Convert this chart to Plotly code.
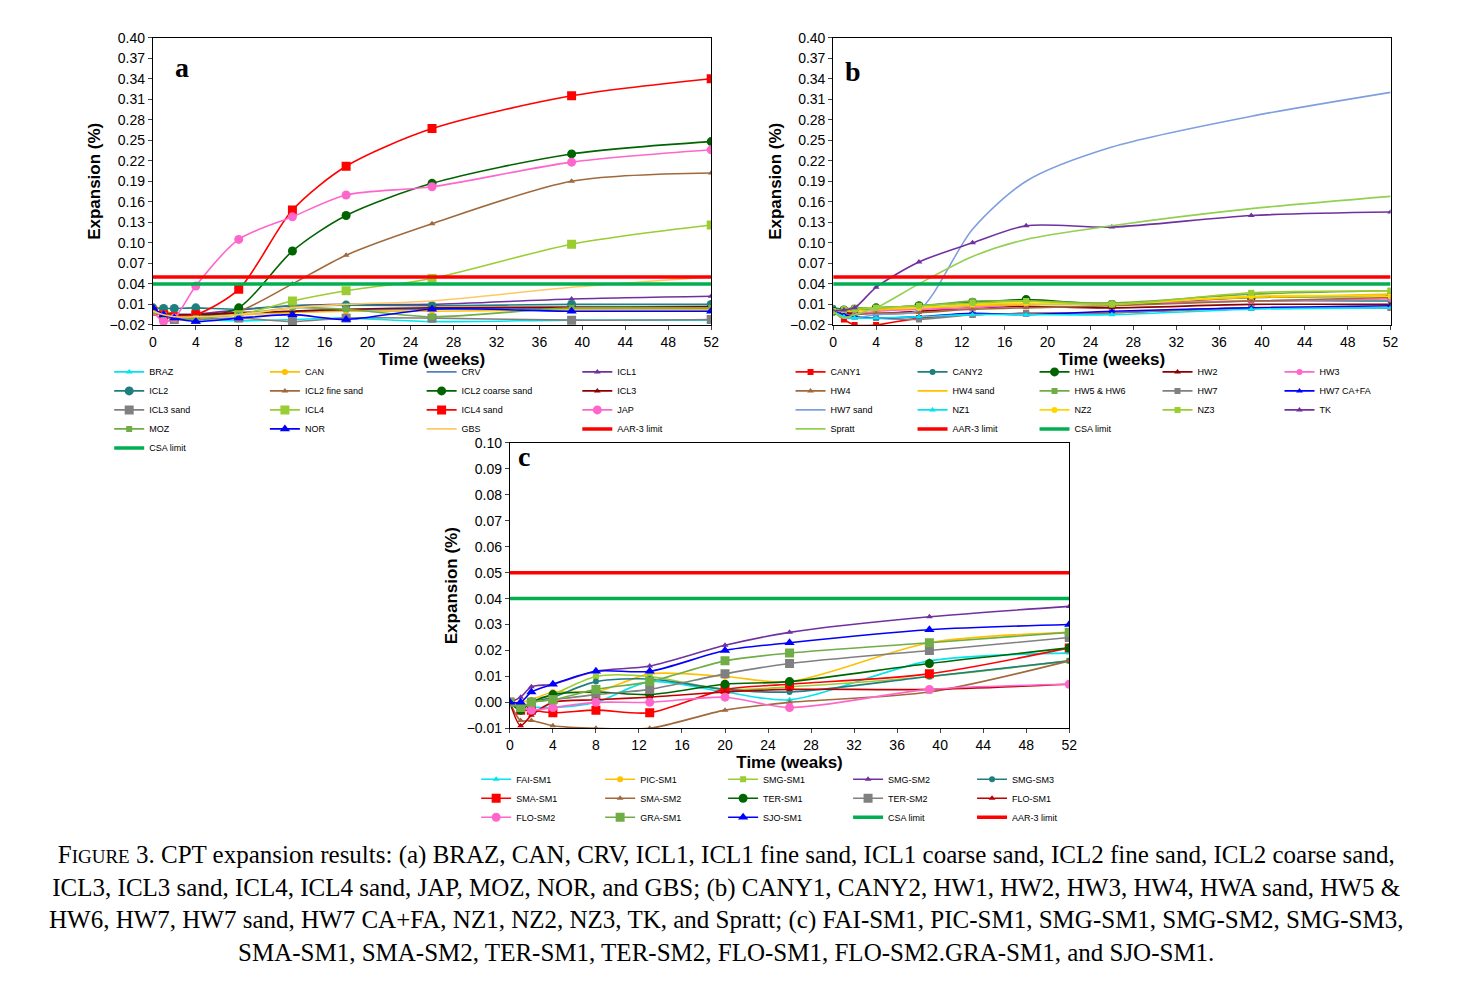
import plotly.graph_objects as go

W, H = 1460, 991
DX, DY = -10, -13  # page offset correction

# ---------------- data ----------------
weeks_a = [0, 1, 2, 4, 8, 13, 18, 26, 39, 52]
weeks_b = [0, 1, 2, 4, 8, 13, 18, 26, 39, 52]
weeks_c = [0, 1, 2, 4, 8, 13, 20, 26, 39, 52]
aar_limit = 0.05
csa_limit = 0.04

names_a = ["BRAZ", "CAN", "CRV", "ICL1", "ICL2", "ICL2 fine sand", "ICL2 coarse sand", "ICL3",
           "ICL3 sand", "ICL4", "ICL4 sand", "JAP", "MOZ", "NOR", "GBS"]
values_a = [
    [0.005, -0.005, -0.01, -0.012, -0.014, -0.012, -0.01, -0.015, -0.013, -0.013],
    [0.005, 0.003, -0.005, -0.005, -0.005, -0.002, 0.0, 0.0, 0.002, 0.002],
    [0.0, -0.003, -0.005, -0.005, -0.003, 0.0, 0.002, 0.003, 0.005, 0.005],
    [0.0, -0.002, -0.004, -0.004, 0.002, 0.008, 0.01, 0.01, 0.018, 0.022],
    [0.005, 0.004, 0.004, 0.005, 0.003, 0.008, 0.009, 0.008, 0.01, 0.01],
    [0.0, -0.005, -0.008, -0.008, 0.0, 0.04, 0.082, 0.128, 0.19, 0.202],
    [0.0, -0.005, -0.008, -0.008, 0.005, 0.088, 0.14, 0.187, 0.23, 0.248],
    [0.0, -0.002, -0.005, -0.005, -0.002, 0.0, 0.003, 0.005, 0.006, 0.007],
    [0.0, -0.008, -0.012, -0.012, -0.01, -0.015, -0.01, -0.01, -0.013, -0.012],
    [0.0, -0.005, -0.008, -0.008, -0.005, 0.015, 0.03, 0.048, 0.098, 0.126],
    [0.0, -0.005, -0.008, -0.005, 0.032, 0.148, 0.212, 0.267, 0.315, 0.34],
    [0.0, -0.015, -0.01, 0.037, 0.105, 0.138, 0.17, 0.182, 0.218, 0.236],
    [0.0, -0.005, -0.01, -0.01, -0.005, 0.005, 0.003, -0.008, 0.005, 0.005],
    [0.005, -0.005, -0.01, -0.015, -0.01, -0.005, -0.012, 0.003, 0.0, 0.0],
    [0.0, -0.005, -0.008, -0.008, -0.005, 0.005, 0.01, 0.015, 0.035, 0.05],
]
colors_a = ["#00e5ee", "#ffc000", "#4f81bd", "#7030a0", "#1f7f7f", "#a0693c", "#006400", "#8b0000",
            "#808080", "#9acd32", "#ff0000", "#ff66cc", "#70ad47", "#0000ff", "#ffc864"]
symbols_a = ["triangle-up", "circle", None, "triangle-up", "circle", "triangle-up", "circle", "triangle-up",
             "square", "square", "square", "circle", "square", "triangle-up", None]

names_b = ["CANY1", "CANY2", "HW1", "HW2", "HW3", "HW4", "HW4 sand", "HW5 & HW6", "HW7", "HW7 CA+FA",
           "HW7 sand", "NZ1", "NZ2", "NZ3", "TK", "Spratt"]
values_b = [
    [0.0, -0.012, -0.02, -0.02, -0.01, -0.005, -0.003, -0.002, 0.005, 0.005],
    [0.005, 0.003, 0.003, 0.003, 0.005, 0.008, 0.01, 0.01, 0.015, 0.015],
    [0.0, 0.002, 0.003, 0.005, 0.008, 0.013, 0.017, 0.01, 0.02, 0.022],
    [0.0, -0.002, -0.003, -0.003, 0.0, 0.005, 0.007, 0.005, 0.01, 0.01],
    [0.0, -0.005, -0.005, 0.0, 0.003, 0.005, 0.01, 0.012, 0.015, 0.018],
    [0.0, -0.005, -0.005, -0.003, -0.002, 0.003, 0.005, 0.008, 0.015, 0.02],
    [0.0, 0.0, 0.0, 0.002, 0.005, 0.008, 0.01, 0.012, 0.02, 0.025],
    [0.0, 0.003, 0.005, 0.005, 0.008, 0.015, 0.015, 0.012, 0.025, 0.03],
    [0.0, -0.005, -0.008, -0.01, -0.012, -0.005, -0.003, -0.002, 0.005, 0.005],
    [0.0, -0.005, -0.008, -0.01, -0.008, -0.003, -0.005, 0.0, 0.005, 0.008],
    [0.0, -0.01, -0.01, -0.005, 0.002, 0.12, 0.19, 0.24, 0.285, 0.32],
    [0.0, -0.008, -0.01, -0.01, -0.008, -0.005, -0.005, -0.005, 0.003, 0.005],
    [0.0, 0.003, 0.003, 0.005, 0.005, 0.01, 0.012, 0.01, 0.022, 0.022],
    [0.0, 0.002, 0.003, 0.005, 0.008, 0.012, 0.015, 0.01, 0.027, 0.03],
    [0.0, 0.002, 0.005, 0.035, 0.072, 0.1, 0.125, 0.123, 0.14, 0.145],
    [0.0, -0.01, -0.005, 0.005, 0.04, 0.08, 0.105, 0.125, 0.15, 0.168],
]
colors_b = ["#ff0000", "#1f7f7f", "#006400", "#8b0000", "#ff66cc", "#a0693c", "#ffc000", "#70ad47", "#808080",
            "#0000ff", "#7f9fdf", "#00e5ee", "#ffd700", "#9acd32", "#7030a0", "#92d050"]
symbols_b = ["square", "circle", "circle", "triangle-up", "circle", "triangle-up", None, "square", "square",
             "triangle-up", None, "triangle-up", "circle", "square", "triangle-up", None]

names_c = ["FAI-SM1", "PIC-SM1", "SMG-SM1", "SMG-SM2", "SMG-SM3", "SMA-SM1", "SMA-SM2", "TER-SM1",
           "TER-SM2", "FLO-SM1", "FLO-SM2", "GRA-SM1", "SJO-SM1"]
values_c = [
    [0.0, -0.003, -0.002, -0.002, 0.0, 0.008, 0.004, 0.001, 0.016, 0.019],
    [0.0, 0.0, 0.001, 0.004, 0.004, 0.011, 0.01, 0.008, 0.023, 0.027],
    [0.0, -0.002, 0.0, 0.003, 0.01, 0.01, 0.005, 0.006, 0.01, 0.016],
    [0.0, 0.002, 0.006, 0.007, 0.012, 0.014, 0.022, 0.027, 0.033, 0.037],
    [0.0, -0.002, 0.0, 0.002, 0.008, 0.009, 0.005, 0.004, 0.01, 0.016],
    [0.0, -0.003, -0.003, -0.004, -0.003, -0.004, 0.005, 0.007, 0.011, 0.021],
    [0.0, -0.007, -0.007, -0.009, -0.01, -0.01, -0.003, 0.0, 0.004, 0.016],
    [0.0, -0.003, 0.0, 0.003, 0.004, 0.003, 0.007, 0.008, 0.015, 0.021],
    [0.0, -0.002, 0.0, 0.001, 0.003, 0.005, 0.011, 0.015, 0.02, 0.025],
    [0.0, -0.009, -0.005, 0.0, 0.001, 0.002, 0.004, 0.005, 0.005, 0.007],
    [0.0, -0.002, -0.003, -0.002, 0.0, 0.0, 0.002, -0.002, 0.005, 0.007],
    [0.0, -0.002, 0.0, 0.001, 0.005, 0.008, 0.016, 0.019, 0.023, 0.027],
    [0.0, 0.0, 0.004, 0.007, 0.012, 0.012, 0.02, 0.023, 0.028, 0.03],
]
colors_c = ["#00e5ee", "#ffc000", "#9acd32", "#7030a0", "#1f7f7f", "#ff0000", "#a0693c", "#006400",
            "#808080", "#c00000", "#ff66cc", "#70ad47", "#0000ff"]
symbols_c = ["triangle-up", "circle", "square", "triangle-up", "circle", "square", "triangle-up", "circle",
             "square", "triangle-up", "circle", "square", "triangle-up"]

# ---------------- layout helpers ----------------
def px_x(p):
    return (p + DX) / W

def px_y(p):
    return 1 - (p + DY) / H

fig = go.Figure()
legend_layouts = {}
legend_count = [0]


def new_legend(x_px, y_px):
    legend_count[0] += 1
    key = "legend" if legend_count[0] == 1 else f"legend{legend_count[0]}"
    legend_layouts[key] = dict(x=px_x(x_px), y=px_y(y_px), xanchor="left", yanchor="top",
                               bgcolor="rgba(0,0,0,0)", font=dict(family="Arial", size=9, color="black"),
                               tracegroupgap=0, itemwidth=30, traceorder="normal")
    return key


def add_panel(axis, weeks, names, values, colors, symbols, limits, col_x, row_y, big):
    ncols = len(col_x)
    keys = [new_legend(x, row_y) for x in col_x]
    items = []
    for n, v, c, s in zip(names, values, colors, symbols):
        items.append(dict(name=n, y=v, color=c, symbol=s, width=1.6, limit=False))
    for n, val, c in limits:
        items.append(dict(name=n, y=[val] * len(weeks), color=c, symbol=None, width=3.5, limit=True))
    for i, it in enumerate(items):
        ms = 9 if big(it["name"]) else 6
        fig.add_trace(go.Scatter(
            x=weeks, y=it["y"], name=it["name"],
            mode="lines+markers" if it["symbol"] else "lines",
            line=dict(color=it["color"], width=it["width"], shape="linear" if it["limit"] else "spline",
                      smoothing=0.8),
            marker=dict(symbol=it["symbol"] or "circle", size=ms, color=it["color"]),
            xaxis="x" + axis, yaxis="y" + axis, legend=keys[i % ncols]))


big_a = lambda n: n in ["ICL4 sand", "ICL2 coarse sand", "JAP", "ICL3 sand", "NOR", "ICL2", "ICL4"]
big_b = lambda n: n in ["HW1"]
big_c = lambda n: n in ["SMA-SM1", "TER-SM1", "TER-SM2", "FLO-SM2", "SJO-SM1", "GRA-SM1"]

add_panel("", weeks_a, names_a, values_a, colors_a, symbols_a,
          [("AAR-3 limit", aar_limit, "#ff0000"), ("CSA limit", csa_limit, "#00b050")],
          [108, 265, 423, 580], 360, big_a)
add_panel("2", weeks_b, names_b, values_b, colors_b, symbols_b,
          [("AAR-3 limit", aar_limit, "#ff0000"), ("CSA limit", csa_limit, "#00b050")],
          [795, 918, 1041, 1165, 1288], 360, big_b)
add_panel("3", weeks_c, names_c, values_c, colors_c, symbols_c,
          [("CSA limit", csa_limit, "#00b050"), ("AAR-3 limit", aar_limit, "#ff0000")],
          [478, 603, 727, 853, 978], 774, big_c)

axis_font = dict(family="Arial", size=14, color="black")
title_font = dict(family="Arial", size=17, color="black")


def xax(x0, x1, y_anchor, title):
    return dict(domain=[px_x(x0), px_x(x1)], range=[0, 52], tick0=0, dtick=4, showgrid=False, zeroline=False,
                showline=True, linecolor="black", mirror=True, ticks="outside", ticklen=4,
                tickfont=axis_font, anchor=y_anchor,
                title=dict(text=f"<b>{title}</b>", font=title_font, standoff=2))


def yax(y0, y1, rng, dtick, tick0, x_anchor, fmt):
    return dict(domain=[px_y(y1), px_y(y0)], range=rng, dtick=dtick, tick0=tick0, tickformat=fmt,
                showgrid=False, zeroline=False, showline=True, linecolor="black", mirror=True,
                ticks="outside", ticklen=4, tickfont=axis_font, anchor=x_anchor,
                title=dict(text="<b>Expansion (%)</b>", font=title_font, standoff=4))


caption = ("F<span style='font-size:19px'>IGURE</span> 3. CPT expansion results: (a) BRAZ, CAN, CRV, ICL1, ICL1 fine sand, "
           "ICL1 coarse sand, ICL2 fine sand, ICL2 coarse sand,<br>ICL3, ICL3 sand, ICL4, ICL4 sand, JAP, MOZ, NOR, and GBS; "
           "(b) CANY1, CANY2, HW1, HW2, HW3, HW4, HWA sand, HW5 &amp;<br>HW6, HW7, HW7 sand, HW7 CA+FA, NZ1, NZ2, NZ3, TK, and "
           "Spratt; (c) FAI-SM1, PIC-SM1, SMG-SM1, SMG-SM2, SMG-SM3,<br>SMA-SM1, SMA-SM2, TER-SM1, TER-SM2, FLO-SM1, "
           "FLO-SM2.GRA-SM1, and SJO-SM1.")

fig.update_layout(
    width=W, height=H, margin=dict(l=0, r=0, t=0, b=0),
    paper_bgcolor="white", plot_bgcolor="white",
    xaxis=xax(152, 715, "y", "Time (weeks)"),
    yaxis=yax(35, 327, [-0.02, 0.40], 0.03, -0.02, "x", ".2f"),
    xaxis2=xax(838, 1400, "y2", "Time (weeks)"),
    yaxis2=yax(35, 327, [-0.02, 0.40], 0.03, -0.02, "x2", ".2f"),
    xaxis3=xax(512, 1076, "y3", "Time (weaks)"),
    yaxis3=yax(447, 737, [-0.01, 0.10], 0.01, 0, "x3", ".2f"),
    annotations=[
        dict(text="<b>a</b>", x=px_x(172), y=px_y(48), xref="paper", yref="paper", showarrow=False,
             font=dict(family="Liberation Serif", size=28, color="black")),
        dict(text="<b>b</b>", x=px_x(858), y=px_y(52), xref="paper", yref="paper", showarrow=False,
             font=dict(family="Liberation Serif", size=28, color="black")),
        dict(text="<b>c</b>", x=px_x(526), y=px_y(461), xref="paper", yref="paper", showarrow=False,
             font=dict(family="Liberation Serif", size=28, color="black")),
        dict(text=caption, x=0.5 + DX / W, y=px_y(850), xref="paper", yref="paper", xanchor="center", yanchor="top",
             showarrow=False, align="center",
             font=dict(family="Liberation Serif", size=25, color="black")),
    ],
    **legend_layouts,
)

fig.write_html("out.html")
